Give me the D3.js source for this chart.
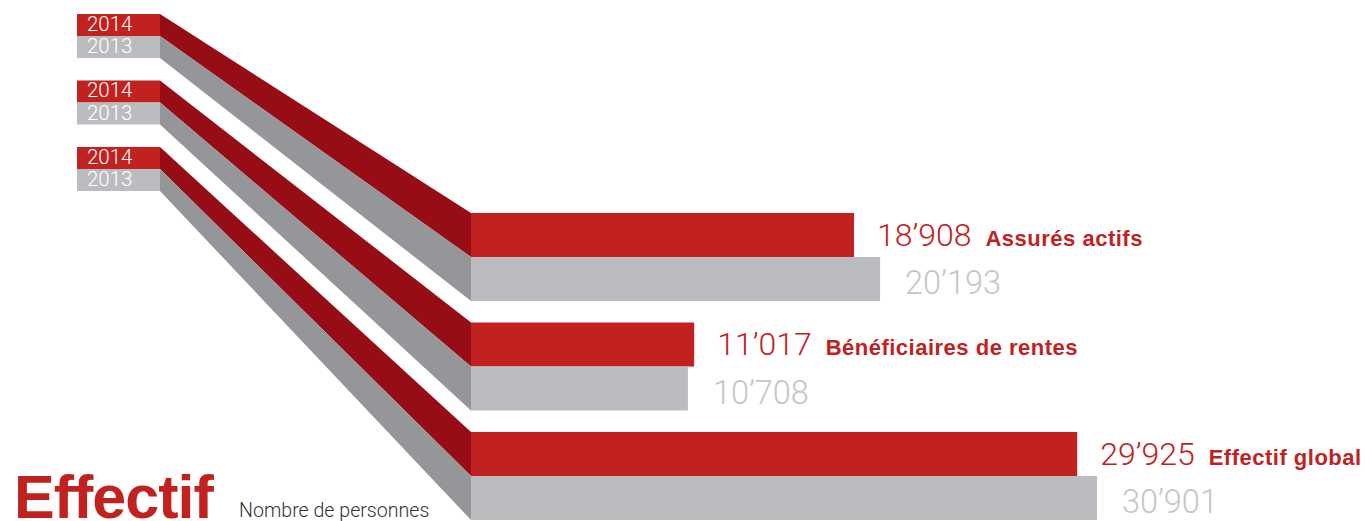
<!DOCTYPE html>
<html>
<head>
<meta charset="utf-8">
<script src="https://cdn.jsdelivr.net/npm/d3@7"></script>
<style>
  body { margin: 0; background: #fff; }
  svg { display: block; }
</style>
</head>
<body>
<div id="chart"></div>
<script>
// data
var categories = ["Assurés actifs", "Bénéficiaires de rentes", "Effectif global"];
var values2014 = [18908, 11017, 29925];
var values2013 = [20193, 10708, 30901];
var years = ["2014", "2013"];

var width = 1365, height = 521;

var red = "#c1211f", redDark = "#970d15",
    grey = "#bbbcbf", greyDark = "#95969a",
    greyText = "#c5c6c8";

var svg = d3.select("#chart")
  .append("svg")
    .attr("width", width)
    .attr("height", height);

// big bars on the right
var x = d3.scaleLinear()
    .domain([0, d3.max(values2013)])
    .range([471, 1097]);

var yBig = d3.scaleBand()
    .domain(categories)
    .range([213, 520])
    .paddingInner(0.196)
    .paddingOuter(0);

// small year boxes on the left
var ySmall = d3.scaleBand()
    .domain(categories)
    .range([14, 191])
    .paddingInner(0.338)
    .paddingOuter(0);

var boxLeft = 77, boxRight = 160;

var fmt = function(v) {
  return d3.format(",")(v).replace(/,/g, "\u2019");
};

var rows = categories.map(function(c, i) {
  return {cat: c, v14: values2014[i], v13: values2013[i]};
});

var g = svg.selectAll(".grp")
    .data(rows)
  .enter().append("g")
    .attr("class", "grp");

// ribbons
g.each(function(d) {
  var sel = d3.select(this);
  var st = ySmall(d.cat), sh = ySmall.bandwidth() / 2;
  var bt = yBig(d.cat), bh = yBig.bandwidth() / 2;
  var x0 = x(0);
  sel.append("polygon")
    .attr("points", [[boxRight, st], [x0, bt], [x0, bt + bh], [boxRight, st + sh]].join(" "))
    .attr("fill", redDark);
  sel.append("polygon")
    .attr("points", [[boxRight, st + sh], [x0, bt + bh], [x0, bt + 2 * bh], [boxRight, st + 2 * sh]].join(" "))
    .attr("fill", greyDark);
});

// small boxes
g.each(function(d) {
  var sel = d3.select(this);
  var st = ySmall(d.cat), sh = ySmall.bandwidth() / 2;
  years.forEach(function(yr, k) {
    sel.append("rect")
      .attr("x", boxLeft)
      .attr("y", st + k * sh)
      .attr("width", boxRight - boxLeft)
      .attr("height", sh)
      .attr("fill", k === 0 ? red : grey);
    sel.append("text")
      .attr("x", boxLeft + 10)
      .attr("y", st + k * sh + 17)
      .attr("fill", "#fff")
      .style("font-family", "Roboto, 'Liberation Sans', sans-serif")
      .style("font-weight", 300)
      .style("font-size", "20.5px")
      .text(yr);
  });
});

// big bars
g.append("rect")
    .attr("x", x(0))
    .attr("y", function(d) { return yBig(d.cat); })
    .attr("width", function(d) { return x(d.v14) - x(0); })
    .attr("height", yBig.bandwidth() / 2)
    .attr("fill", red);

g.append("rect")
    .attr("x", x(0))
    .attr("y", function(d) { return yBig(d.cat) + yBig.bandwidth() / 2; })
    .attr("width", function(d) { return x(d.v13) - x(0); })
    .attr("height", yBig.bandwidth() / 2)
    .attr("fill", grey);

// value labels
g.each(function(d) {
  var sel = d3.select(this);
  var bt = yBig(d.cat), bh = yBig.bandwidth() / 2;
  var t14 = sel.append("text")
    .attr("x", x(d.v14) + 23)
    .attr("y", bt + 33)
    .attr("fill", red)
    .style("font-family", "Roboto, 'Liberation Sans', sans-serif")
    .style("font-weight", 300)
    .style("font-size", "32px")
    .text(fmt(d.v14));
  var w = t14.node().getComputedTextLength();
  sel.append("text")
    .attr("x", x(d.v14) + 23 + w + 14)
    .attr("y", bt + 33)
    .attr("fill", red)
    .style("font-family", "'Liberation Sans', Arial, sans-serif")
    .style("font-weight", "bold")
    .style("font-size", "22px")
    .style("letter-spacing", "0.5px")
    .text(d.cat);
  sel.append("text")
    .attr("x", x(d.v13) + 25)
    .attr("y", bt + bh + 37)
    .attr("fill", greyText)
    .style("font-family", "Roboto, 'Liberation Sans', sans-serif")
    .style("font-weight", 300)
    .style("font-size", "32.5px")
    .text(fmt(d.v13));
});

// title
svg.append("text")
    .attr("x", 14)
    .attr("y", 518)
    .attr("fill", red)
    .style("font-family", "'Liberation Sans', Arial, sans-serif")
    .style("font-weight", "bold")
    .style("font-size", "61px")
    .style("letter-spacing", "-1px")
    .text("Effectif");

svg.append("text")
    .attr("x", 239)
    .attr("y", 517)
    .attr("fill", "#333")
    .style("font-family", "Roboto, 'Liberation Sans', sans-serif")
    .style("font-weight", 300)
    .style("font-size", "19.6px")
    .text("Nombre de personnes");
</script>
</body>
</html>
